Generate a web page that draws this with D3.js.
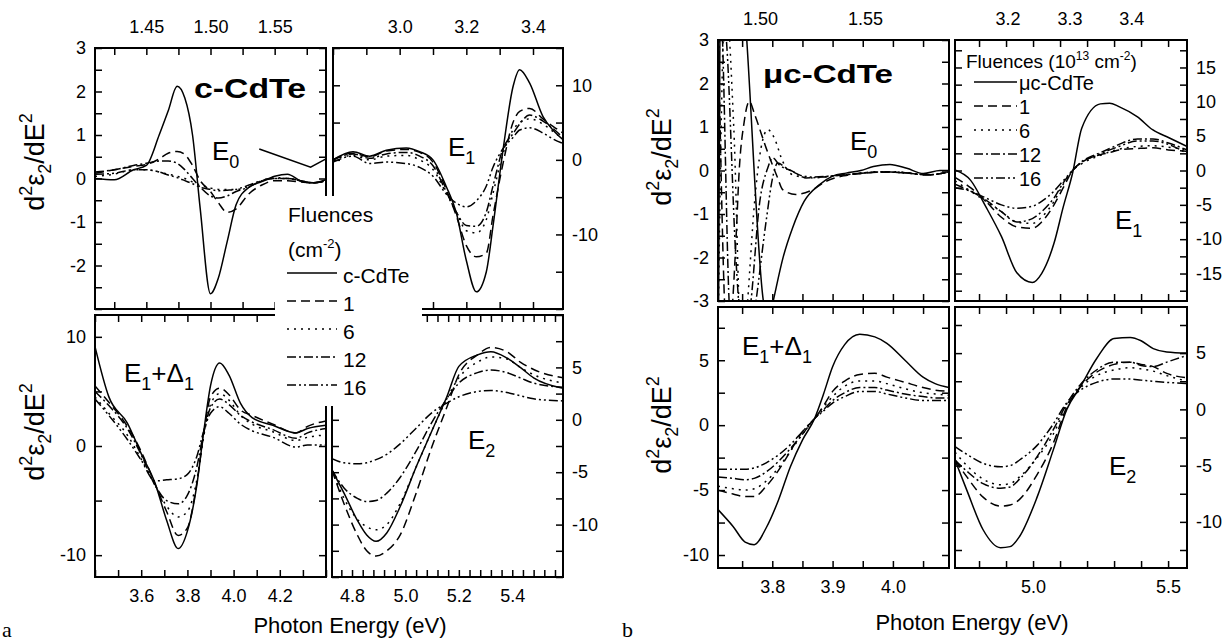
<!DOCTYPE html>
<html>
<head>
<meta charset="utf-8">
<style>
  body { margin: 0; background: #fff; }
  svg { display: block; font-family: "Liberation Sans", Arial, sans-serif; }
  text { white-space: pre; }
</style>
<script src="https://d3js.org/d3.v7.min.js"></script>
</head>
<body>
<svg></svg>
<script>
var width = 1225;
var height = 641;

// legend entries and their line styles (same order as the value arrays)
var fluencesA = ["c-CdTe", "1", "6", "12", "16"];
var fluencesB = ["\u03bcc-CdTe", "1", "6", "12", "16"];
var dashes = ["none", "9,5", "2,5", "9,3,2,3", "9,3,2,3,2,3"];

// ---------- a : c-CdTe ----------
var aE0Energy = [1.41, 1.425, 1.44, 1.45, 1.46, 1.467, 1.474, 1.48, 1.486, 1.492, 1.5, 1.506, 1.513, 1.52, 1.53, 1.54, 1.55, 1.56, 1.57, 1.58, 1.59];
var aE0Values = [
  [0.0, -0.03, 0.2, 0.3, 1.0, 1.55, 2.12, 1.85, 1.0, -0.7, -2.65, -2.3, -1.45, -0.6, -0.2, -0.07, 0.05, 0.1, -0.05, -0.1, -0.03],
  [0.12, 0.2, 0.28, 0.32, 0.45, 0.58, 0.62, 0.55, 0.3, -0.05, -0.3, -0.55, -0.78, -0.7, -0.35, -0.15, -0.05, -0.05, -0.08, -0.1, -0.05],
  [0.05, 0.1, 0.2, 0.2, 0.15, 0.1, 0.05, 0.0, -0.08, -0.15, -0.22, -0.25, -0.25, -0.25, -0.18, -0.05, 0.02, 0.0, -0.05, -0.1, -0.05],
  [0.15, 0.2, 0.3, 0.35, 0.4, 0.4, 0.35, 0.2, 0.0, -0.2, -0.4, -0.45, -0.4, -0.3, -0.2, -0.05, 0.0, 0.0, -0.05, -0.1, -0.05],
  [0.1, 0.12, 0.2, 0.2, 0.15, 0.08, 0.02, -0.05, -0.12, -0.2, -0.25, -0.28, -0.27, -0.25, -0.15, -0.05, 0.0, 0.0, -0.05, -0.1, -0.05]
];
var aE0Pointer = [[1.538, 0.68], [1.578, 0.26], [1.59, 0.45]];

var aE1Energy = [2.80, 2.86, 2.91, 2.96, 3.02, 3.06, 3.10, 3.14, 3.17, 3.20, 3.23, 3.26, 3.28, 3.31, 3.34, 3.36, 3.39, 3.43, 3.46, 3.49];
var aE1Values = [
  [0, 1.1, 0.5, 1.3, 1.6, 1.1, 0, -3.6, -7.1, -13.5, -17.7, -15, -8.9, 1.3, 9.8, 12.1, 10.3, 5.8, 4.0, 2.7],
  [0, 0.9, 0.4, 1.2, 1.4, 1.0, -0.3, -4.0, -7.5, -11.5, -13.0, -12.5, -7.5, -0.5, 5.0, 6.5, 6.9, 5.5, 4.5, 3.6],
  [0, 0.6, 0.0, 0.5, 0.6, 0.0, -1.3, -4.5, -7.0, -9.5, -9.8, -8.0, -4.5, 0.8, 4.0, 5.0, 5.5, 4.8, 3.8, 2.8],
  [0, 0.8, 0.2, 0.8, 1.0, 0.5, -0.8, -4.3, -7.0, -8.8, -8.9, -7.0, -3.5, 1.5, 3.5, 4.8, 6.0, 5.2, 4.2, 3.0],
  [-0.3, 0.5, -0.5, -0.3, -0.5, -1.0, -2.2, -4.6, -5.8, -6.3, -5.5, -3.5, -1.0, 1.5, 3.0, 4.0, 4.3, 3.6, 2.8, 2.2]
];

var aE1D1Energy = [3.40, 3.46, 3.54, 3.60, 3.66, 3.71, 3.76, 3.80, 3.84, 3.87, 3.90, 3.94, 3.98, 4.03, 4.08, 4.17, 4.27, 4.32, 4.40];
var aE1D1Values = [
  [9.1, 4.5, 2.1, -0.7, -3.4, -6.8, -9.4, -7.8, -3.7, 1.2, 5.5, 7.6, 6.5, 3.9, 2.6, 1.9, 1.2, 1.6, 1.9],
  [5.5, 4.0, 1.8, -0.5, -3.5, -6.0, -8.2, -7.5, -3.5, 1.0, 4.5, 5.3, 4.7, 3.3, 2.8, 2.0, 1.2, 1.8, 2.3],
  [4.5, 3.0, 1.0, -1.2, -3.6, -5.5, -6.5, -6.0, -3.2, 0.8, 3.8, 4.8, 4.2, 2.8, 2.0, 1.3, 0.5, 0.8, 1.0],
  [5.0, 3.7, 1.6, -0.8, -3.6, -5.0, -5.3, -4.5, -2.0, 1.2, 3.5, 4.3, 3.8, 2.8, 2.2, 1.5, 0.7, 1.2, 1.6],
  [4.3, 2.8, 0.6, -1.3, -3.2, -3.1, -3.0, -2.6, -1.0, 1.3, 3.0, 3.6, 3.0, 2.0, 1.4, 0.8, -0.1, 0.1, 0.1]
];

var aE2Energy = [4.725, 4.77, 4.82, 4.855, 4.89, 4.93, 4.98, 5.04, 5.10, 5.155, 5.20, 5.27, 5.32, 5.38, 5.43, 5.48, 5.59];
var aE2Values = [
  [-4.8, -7.0, -9.6, -11.0, -11.6, -10.8, -8.3, -4.5, -1.0, 2.2, 5.1, 6.2, 6.5, 5.9, 5.0, 4.0, 3.0],
  [-4.8, -8.0, -11.0, -12.5, -13.0, -12.5, -11.0, -7.0, -2.5, 1.2, 4.3, 6.2, 6.9, 6.5, 5.5, 4.8, 4.0],
  [-4.8, -7.5, -9.5, -10.2, -10.5, -10.0, -8.0, -4.5, -1.0, 2.0, 4.0, 5.5, 6.0, 5.8, 5.0, 4.3, 3.5],
  [-4.8, -6.5, -7.5, -7.8, -7.7, -7.0, -5.5, -3.0, -0.2, 2.0, 3.5, 4.5, 4.75, 4.5, 4.0, 3.5, 3.1],
  [-3.7, -4.1, -4.2, -4.1, -3.8, -3.3, -2.3, -0.8, 0.7, 1.6, 2.2, 2.7, 2.8, 2.6, 2.3, 2.0, 1.8]
];

// ---------- b : uc-CdTe ----------
var bE0Energy = [
  [1.48, 1.4812, 1.486, 1.4937, 1.5016, 1.504, 1.5063, 1.5111, 1.5155, 1.521, 1.5282, 1.5346, 1.541, 1.548, 1.554, 1.5619, 1.5699, 1.5778, 1.5857, 1.59],
  [1.48, 1.4845, 1.487, 1.4886, 1.4901, 1.4925, 1.4949, 1.4975, 1.5029, 1.5084, 1.5108, 1.5171, 1.5251, 1.5314, 1.54, 1.55, 1.56, 1.57, 1.58, 1.59],
  [1.48, 1.4815, 1.4835, 1.4875, 1.4915, 1.4941, 1.4973, 1.5005, 1.5037, 1.5068, 1.5108, 1.5156, 1.5251, 1.5346, 1.545, 1.555, 1.565, 1.575, 1.58, 1.59],
  [1.48, 1.482, 1.4855, 1.489, 1.4957, 1.4997, 1.5037, 1.506, 1.5092, 1.5156, 1.5219, 1.53, 1.54, 1.55, 1.56, 1.57, 1.58, 1.59],
  [1.48, 1.4808, 1.484, 1.4885, 1.4935, 1.4981, 1.5029, 1.506, 1.5084, 1.5124, 1.5187, 1.525, 1.535, 1.545, 1.555, 1.565, 1.575, 1.58, 1.59]
];
var bE0Values = [
  [-6, 6, 8.5, 3.0, -3.0, -3.5, -3.0, -1.98, -1.32, -0.71, -0.33, -0.13, -0.06, 0.0, 0.09, 0.14, 0.05, -0.07, 0.0, 0.0],
  [3.5, -4.0, -3.0, -1.55, 0.0, 1.13, 1.59, 1.28, 0.52, -0.17, -0.44, -0.55, -0.44, -0.25, -0.12, -0.06, -0.03, -0.06, -0.1, -0.03],
  [-4, 1, 4, 1, -4.5, -3.0, -0.79, 0.52, 0.94, 0.75, 0.21, -0.1, -0.17, -0.12, -0.08, -0.03, -0.03, -0.08, -0.1, -0.03],
  [5, 3.2, -3.2, -4.5, -3.0, -0.79, 0.06, 0.29, 0.13, -0.02, -0.17, -0.15, -0.1, -0.05, -0.03, -0.06, -0.1, -0.03],
  [-1, 4, 3, -2, -4.5, -3.0, -1.17, -0.17, 0.17, 0.06, -0.1, -0.15, -0.12, -0.08, -0.04, -0.04, -0.08, -0.1, -0.03]
];

var bE1Energy = [3.115, 3.14, 3.165, 3.19, 3.215, 3.24, 3.255, 3.275, 3.29, 3.305, 3.32, 3.35, 3.365, 3.38, 3.41, 3.435, 3.46, 3.49];
var bE1Values = [
  [0.07, -1.4, -5.3, -9.6, -14.9, -16.3, -15.0, -10.6, -5.3, -0.4, 6.2, 9.7, 9.8, 9.3, 7.8, 5.9, 4.8, 3.5],
  [-1.0, -2.5, -4.5, -6.8, -8.2, -8.4, -7.5, -5.0, -2.5, 0.0, 1.2, 2.3, 2.6, 3.0, 3.2, 3.3, 3.0, 2.8],
  [-1.5, -3.0, -4.5, -6.0, -7.5, -7.7, -6.8, -4.5, -2.0, 0.0, 1.0, 2.2, 2.7, 3.1, 3.5, 3.6, 3.4, 3.0],
  [-2.0, -3.0, -4.3, -6.0, -7.5, -7.0, -6.0, -4.0, -1.8, 0.0, 1.3, 2.6, 3.2, 3.8, 4.6, 4.6, 4.0, 3.0],
  [-2.5, -3.0, -4.0, -5.0, -5.5, -5.2, -4.5, -3.0, -1.5, 0.0, 1.2, 2.4, 3.0, 3.5, 4.3, 4.3, 3.8, 2.5]
];

var bE1D1Energy = [3.71, 3.735, 3.755, 3.77, 3.79, 3.81, 3.83, 3.85, 3.87, 3.885, 3.90, 3.92, 3.945, 3.97, 3.99, 4.02, 4.05, 4.07, 4.093];
var bE1D1Values = [
  [-6.5, -7.8, -9.0, -9.2, -7.9, -5.8, -3.2, -1.15, 0.5, 2.4, 4.5, 6.2, 7.0, 6.8, 6.3, 5.0, 3.7, 3.2, 2.9],
  [-5.0, -5.3, -5.5, -5.5, -4.7, -3.5, -2.0, -0.5, 0.5, 1.5, 2.6, 3.4, 3.9, 4.0, 3.7, 3.3, 2.9, 2.7, 2.6],
  [-4.7, -4.9, -5.0, -4.9, -4.3, -3.3, -2.0, -0.7, 0.5, 1.4, 2.2, 3.0, 3.4, 3.4, 3.2, 2.8, 2.5, 2.4, 2.3],
  [-4.0, -4.1, -4.2, -4.1, -3.6, -2.8, -1.8, -0.7, 0.5, 1.2, 1.9, 2.5, 2.9, 2.9, 2.7, 2.4, 2.2, 2.1, 2.1],
  [-3.4, -3.4, -3.4, -3.3, -2.9, -2.3, -1.5, -0.5, 0.5, 1.1, 1.7, 2.2, 2.6, 2.6, 2.4, 2.1, 1.9, 1.9, 1.9]
];

var bE2Energy = [4.711, 4.755, 4.815, 4.88, 4.915, 4.95, 5.015, 5.075, 5.125, 5.175, 5.235, 5.30, 5.36, 5.40, 5.445, 5.495, 5.57];
var bE2Values = [
  [-4.5, -7.2, -10.7, -12.3, -12.2, -11.3, -7.8, -3.6, 0.0, 2.0, 4.5, 6.3, 6.4, 6.1, 5.4, 5.1, 5.0],
  [-4.5, -6.0, -7.8, -8.6, -8.5, -8.0, -5.8, -3.0, 0.2, 2.0, 3.3, 4.0, 4.2, 4.0, 3.8, 3.2, 2.8],
  [-3.8, -5.0, -6.2, -6.7, -6.6, -6.0, -4.3, -2.2, 0.4, 1.9, 3.0, 3.5, 3.7, 3.6, 3.4, 3.0, 2.5],
  [-4.5, -5.5, -6.6, -7.0, -6.9, -6.2, -4.2, -1.8, 0.5, 2.2, 3.5, 4.2, 4.2, 3.9, 3.8, 4.2, 4.8],
  [-3.3, -4.0, -4.8, -5.1, -5.0, -4.5, -3.2, -1.3, 0.6, 1.7, 2.4, 2.7, 2.7, 2.6, 2.5, 2.4, 2.3]
];

// tick labels
var aE0XLabels = [1.45, 1.50, 1.55], aE0YLabels = [3, 2, 1, 0, -1, -2];
var aE1XLabels = [3.0, 3.2, 3.4], aE1YLabels = [10, 0, -10];
var aE1D1XLabels = [3.6, 3.8, 4.0, 4.2], aE1D1YLabels = [10, 0, -10];
var aE2XLabels = [4.8, 5.0, 5.2, 5.4], aE2YLabels = [5, 0, -5, -10];
var bE0XLabels = [1.50, 1.55], bE0YLabels = [3, 2, 1, 0, -1, -2, -3];
var bE1XLabels = [3.2, 3.3, 3.4], bE1YLabels = [15, 10, 5, 0, -5, -10, -15];
var bE1D1XLabels = [3.8, 3.9, 4.0], bE1D1YLabels = [5, 0, -5, -10];
var bE2XLabels = [5.0, 5.5], bE2YLabels = [5, 0, -5, -10];

// panel layout
var panels = [
  {left: 95, right: 326, top: 48, bottom: 309, x: [1.41, 1.59], y: [-3, 3],
   energy: aE0Energy, values: aE0Values, xTicks: [1.45, 0.025], yStep: 0.5,
   xLabels: aE0XLabels, xDigits: 2, xSide: "top", yLabels: aE0YLabels, ySide: "left", pointer: aE0Pointer},
  {left: 333, right: 563, top: 48, bottom: 309, x: [2.8, 3.49], y: [-20, 15],
   energy: aE1Energy, values: aE1Values, xTicks: [3.0, 0.1], yStep: 5,
   xLabels: aE1XLabels, xDigits: 1, xSide: "top", yLabels: aE1YLabels, ySide: "right"},
  {left: 95, right: 326, top: 315, bottom: 577, x: [3.4, 4.4], y: [-12, 12],
   energy: aE1D1Energy, values: aE1D1Values, xTicks: [3.6, 0.1], yStep: 5,
   xLabels: aE1D1XLabels, xDigits: 1, xSide: "bottom", yLabels: aE1D1YLabels, ySide: "left"},
  {left: 332, right: 563, top: 315, bottom: 577, x: [4.725, 5.59], y: [-15, 10],
   energy: aE2Energy, values: aE2Values, xTicks: [4.8, 0.04], yStep: 2.5,
   xLabels: aE2XLabels, xDigits: 1, xSide: "bottom", yLabels: aE2YLabels, ySide: "right"},
  {left: 718, right: 949, top: 40, bottom: 301, x: [1.48, 1.59], y: [-3, 3],
   energy: bE0Energy, values: bE0Values, edgeX: [3.71, 4.093], xTicks: [3.8, 0.05], yStep: 0.5,
   xLabels: bE0XLabels, xDigits: 2, xSide: "top", yLabels: bE0YLabels, ySide: "left"},
  {left: 955, right: 1187, top: 40, bottom: 301, x: [3.115, 3.49], y: [-19, 19],
   energy: bE1Energy, values: bE1Values, edgeX: [4.711, 5.57], xTicks: [5.0, 0.1], yStep: 2.5,
   xLabels: bE1XLabels, xDigits: 1, xSide: "top", yLabels: bE1YLabels, ySide: "right"},
  {left: 718, right: 949, top: 307, bottom: 568, x: [3.71, 4.093], y: [-11, 9.1],
   energy: bE1D1Energy, values: bE1D1Values, xTicks: [3.8, 0.05], yStep: 2.5,
   xLabels: bE1D1XLabels, xDigits: 1, xSide: "bottom", yLabels: bE1D1YLabels, ySide: "left"},
  {left: 955, right: 1187, top: 307, bottom: 568, x: [4.711, 5.57], y: [-14.1, 9.1],
   energy: bE2Energy, values: bE2Values, xTicks: [5.0, 0.1], yStep: 2.5,
   xLabels: bE2XLabels, xDigits: 1, xSide: "bottom", yLabels: bE2YLabels, ySide: "right"}
];

var svg = d3.select("svg")
    .attr("width", width)
    .attr("height", height);

var line = d3.line().curve(d3.curveMonotoneX);

function stepTicks(domain, anchor, step) {
  var k0 = Math.ceil((domain[0] - anchor) / step - 1e-6);
  var k1 = Math.floor((domain[1] - anchor) / step + 1e-6);
  return d3.range(k0, k1 + 1).map(function(k) { return anchor + k * step; });
}

panels.forEach(function(p, i) {
  var x = d3.scaleLinear().domain(p.x).range([p.left, p.right]);
  var y = d3.scaleLinear().domain(p.y).range([p.bottom, p.top]);
  var ex = p.edgeX ? d3.scaleLinear().domain(p.edgeX).range([p.left, p.right]) : x;
  var xt = stepTicks(ex.domain(), p.xTicks[0], p.xTicks[1]);
  var yt = stepTicks(y.domain(), 0, p.yStep);
  var g = svg.append("g");

  svg.append("clipPath").attr("id", "clip" + i)
    .append("rect")
      .attr("x", p.left).attr("y", p.top)
      .attr("width", p.right - p.left).attr("height", p.bottom - p.top);

  var cg = g.append("g").attr("clip-path", "url(#clip" + i + ")");
  p.values.forEach(function(vals, k) {
    var en = Array.isArray(p.energy[0]) ? p.energy[k] : p.energy;
    cg.append("path")
      .attr("d", line(vals.map(function(v, j) { return [x(en[j]), y(v)]; })))
      .attr("fill", "none")
      .attr("stroke", "#000")
      .attr("stroke-width", 1.5)
      .attr("stroke-dasharray", dashes[k]);
  });
  if (p.pointer) {
    g.append("path")
      .attr("d", d3.line()(p.pointer.map(function(d) { return [x(d[0]), y(d[1])]; })))
      .attr("fill", "none").attr("stroke", "#000").attr("stroke-width", 1.5);
  }

  // inward ticks on all four edges
  function edge(axis, tx, ty) {
    var a = g.append("g")
      .attr("transform", "translate(" + tx + "," + ty + ")")
      .call(axis.tickSize(-7).tickFormat(""));
    a.select(".domain").remove();
    a.selectAll("line").attr("stroke-width", 1.5);
  }
  edge(d3.axisTop(ex).tickValues(xt), 0, p.top);
  edge(d3.axisBottom(ex).tickValues(xt), 0, p.bottom);
  edge(d3.axisLeft(y).tickValues(yt), p.left, 0);
  edge(d3.axisRight(y).tickValues(yt), p.right, 0);

  function labels(axis, tx, ty, pad, fmt) {
    var a = g.append("g")
      .attr("transform", "translate(" + tx + "," + ty + ")")
      .call(axis.tickSize(0).tickPadding(pad).tickFormat(fmt));
    a.select(".domain").remove();
    a.attr("font-size", 18).attr("font-family", null);
  }
  var top = p.xSide == "top";
  labels((top ? d3.axisTop : d3.axisBottom)(x).tickValues(p.xLabels), 0,
         top ? p.top : p.bottom, top ? 15 : 12,
         function(d) { return d.toFixed(p.xDigits); });
  var leftSide = p.ySide == "left";
  labels((leftSide ? d3.axisLeft : d3.axisRight)(y).tickValues(p.yLabels),
         leftSide ? p.left : p.right, 0, i < 4 ? 9 : 9, String);

  g.append("rect")
    .attr("x", p.left).attr("y", p.top)
    .attr("width", p.right - p.left).attr("height", p.bottom - p.top)
    .attr("fill", "none").attr("stroke", "#000").attr("stroke-width", 2);
});

// ---- texts ----
function yTitle(cx, cy) {
  var t = svg.append("text")
    .attr("transform", "translate(" + cx + "," + cy + ") rotate(-90)")
    .attr("text-anchor", "middle")
    .attr("font-size", 27);
  t.append("tspan").text("d");
  t.append("tspan").attr("font-size", 18).attr("dy", -12).text("2");
  t.append("tspan").attr("dy", 12).text("\u03b5");
  t.append("tspan").attr("font-size", 18).attr("dy", 7).text("2");
  t.append("tspan").attr("dy", -7).text("/dE");
  t.append("tspan").attr("font-size", 18).attr("dy", -12).text("2");
}
yTitle(44, 162);
yTitle(44, 432);
yTitle(671, 157);
yTitle(671, 425);

function eLabel(x, y, parts) {
  var t = svg.append("text").attr("x", x).attr("y", y).attr("font-size", 26);
  var low = false;
  parts.forEach(function(s) {
    var sub = s.charAt(0) == "_";
    var ts = t.append("tspan").text(sub ? s.slice(1) : s);
    if (sub) ts.attr("font-size", 18);
    if (sub != low) ts.attr("dy", sub ? 8 : -8);
    low = sub;
  });
}
eLabel(212, 160, ["E", "_0"]);
eLabel(448, 156, ["E", "_1"]);
eLabel(124, 382, ["E", "_1", "+\u0394", "_1"]);
eLabel(468, 449, ["E", "_2"]);
eLabel(850, 150, ["E", "_0"]);
eLabel(1115, 229, ["E", "_1"]);
eLabel(742, 355, ["E", "_1", "+\u0394", "_1"]);
eLabel(1109, 475, ["E", "_2"]);

svg.append("text").attr("x", 194).attr("y", 98)
  .attr("font-size", 27).attr("font-weight", "bold")
  .attr("textLength", 112).attr("lengthAdjust", "spacingAndGlyphs")
  .text("c-CdTe");
svg.append("text").attr("x", 763).attr("y", 83)
  .attr("font-size", 26).attr("font-weight", "bold")
  .attr("textLength", 130).attr("lengthAdjust", "spacingAndGlyphs")
  .text("\u03bcc-CdTe");

svg.append("text").attr("x", 350).attr("y", 633)
  .attr("text-anchor", "middle").attr("font-size", 22)
  .text("Photon Energy (eV)");
svg.append("text").attr("x", 972).attr("y", 630)
  .attr("text-anchor", "middle").attr("font-size", 22)
  .text("Photon Energy (eV)");

svg.append("text").attr("x", 2).attr("y", 637)
  .attr("font-family", "Liberation Serif, Times New Roman, serif").attr("font-size", 22).text("a");
svg.append("text").attr("x", 622).attr("y", 637)
  .attr("font-family", "Liberation Serif, Times New Roman, serif").attr("font-size", 22).text("b");

// ---- legend a (white box over the panel corners) ----
var lgA = svg.append("g");
lgA.append("rect")
  .attr("x", 275).attr("y", 196).attr("width", 147).attr("height", 210)
  .attr("fill", "#fff");
lgA.append("text").attr("x", 288).attr("y", 222).attr("font-size", 21).text("Fluences");
var unitA = lgA.append("text").attr("x", 288).attr("y", 257).attr("font-size", 21);
unitA.append("tspan").text("(cm");
unitA.append("tspan").attr("font-size", 13).attr("dy", -9).text("-2");
unitA.append("tspan").attr("dy", 9).text(")");
fluencesA.forEach(function(name, k) {
  var yy = 273 + k * 28;
  lgA.append("line")
    .attr("x1", 287).attr("x2", 337).attr("y1", yy).attr("y2", yy)
    .attr("stroke", "#000").attr("stroke-width", 1.5)
    .attr("stroke-dasharray", dashes[k]);
  lgA.append("text").attr("x", 343).attr("y", yy + 10)
    .attr("font-size", 21).text(name);
});

// ---- legend b ----
var lgB = svg.append("g");
var titleB = lgB.append("text").attr("x", 966).attr("y", 68).attr("font-size", 19);
titleB.append("tspan").text("Fluences (10");
titleB.append("tspan").attr("font-size", 12).attr("dy", -8).text("13");
titleB.append("tspan").attr("dy", 8).text(" cm");
titleB.append("tspan").attr("font-size", 12).attr("dy", -8).text("-2");
titleB.append("tspan").attr("dy", 8).text(")");
fluencesB.forEach(function(name, k) {
  var yy = 82 + k * 24;
  lgB.append("line")
    .attr("x1", 974).attr("x2", 1017).attr("y1", yy).attr("y2", yy)
    .attr("stroke", "#000").attr("stroke-width", 1.5)
    .attr("stroke-dasharray", dashes[k]);
  lgB.append("text").attr("x", 1019).attr("y", yy + 8)
    .attr("font-size", 20).text(name);
});
</script>
</body>
</html>
